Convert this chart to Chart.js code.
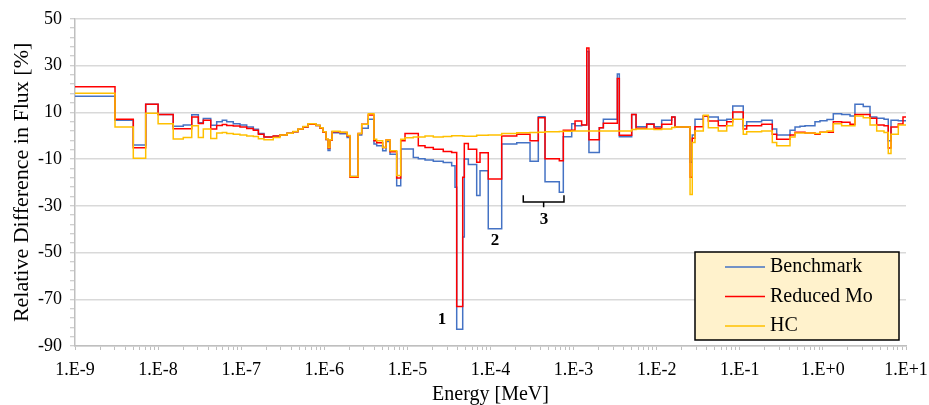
<!DOCTYPE html>
<html>
<head>
<meta charset="utf-8">
<title>Relative Difference in Flux</title>
<script src="https://cdn.jsdelivr.net/npm/chart.js@4.4.1/dist/chart.umd.min.js"></script>
<style>
  body { margin: 0; background: #fff; }
  #wrap { width: 929px; height: 405px; }
</style>
</head>
<body>
<div id="wrap"><canvas id="fluxChart" width="929" height="405"></canvas></div>
<script>
// energy group boundaries [MeV], group i runs from energy[i] to energy[i+1]
const energy = [
  1.0e-9, 3.03e-9, 5.03e-9, 7.09e-9, 1.0e-8, 1.52e-8, 2.01e-8, 2.54e-8, 3.05e-8, 3.5e-8,
  4.3e-8, 5.07e-8, 5.92e-8, 6.69e-8, 8.03e-8, 9.67e-8, 1.165e-7, 1.4e-7, 1.61e-7, 1.88e-7,
  2.43e-7, 2.93e-7, 3.56e-7, 4.2e-7, 4.82e-7, 5.54e-7, 6.37e-7, 7.95e-7, 8.88e-7, 9.65e-7,
  1.048e-6, 1.11e-6, 1.17e-6, 1.24e-6, 1.545e-6, 1.88e-6, 2.04e-6, 2.55e-6, 2.82e-6, 3.38e-6,
  3.96e-6, 4.27e-6, 5.04e-6, 5.53e-6, 6.18e-6, 7.43e-6, 8.31e-6, 9.36e-6, 1.178e-5, 1.353e-5,
  1.63e-5, 2.05e-5, 2.7e-5, 3.41e-5, 3.74e-5, 3.92e-5, 4.63e-5, 4.84e-5, 5.41e-5, 6.82e-5,
  7.48e-5, 9.4e-5, 1.364e-4, 2.07e-4, 2.99e-4, 3.76e-4, 4.53e-4, 6.73e-4, 7.52e-4, 9.49e-4,
  1.04e-3, 1.25e-3, 1.44e-3, 1.53e-3, 2.04e-3, 2.28e-3, 3.36e-3, 3.55e-3, 5.0e-3, 5.64e-3,
  7.58e-3, 9.29e-3, 1.148e-2, 1.516e-2, 1.66e-2, 2.52e-2, 2.68e-2, 2.89e-2, 3.64e-2, 4.18e-2,
  5.51e-2, 6.96e-2, 8.22e-2, 0.110, 0.121, 0.183, 0.246, 0.278, 0.402, 0.462,
  0.530, 0.609, 0.803, 0.923, 1.12, 1.334, 1.68, 2.12, 2.43, 3.06,
  3.69, 4.44, 5.44, 6.12, 6.60, 8.08, 9.20, 10
];

// relative difference [%] per group
const benchmark = [
  16.9, 6.6, -4.0, 13.4, 9.1, 4.0, 4.6, 8.9, 5.5, 7.3,
  4.5, 5.9, 6.6, 6.0, 5.1, 4.6, 3.7, 2.7, 0.9, -0.6,
  -0.3, 0.3, 1.0, 1.7, 2.7, 3.7, 4.9, 4.3, 3.2, 1.5,
  -1.6, -6.3, -2.0, 1.2, 0.8, -0.8, -17.5, 0.3, 3.2, 7.0,
  -3.6, -4.3, -6.5, -2.5, -8.0, -21.4, -5.7, -5.7, -9.3, -9.9,
  -10.4, -10.9, -11.5, -12.9, -22.1, -82.8, -43.4, -10.0, -12.3, -25.6,
  -15.0, -39.8, -3.6, -3.0, -11.0, 8.1, -19.7, -24.2, -0.5, 5.1,
  4.2, 4.6, 36.0, -7.2, 3.4, 7.0, 26.4, -0.5, 9.1, 3.8,
  5.1, 3.8, 6.6, 8.0, 3.7, -11.4, 0.3, 7.0, 8.4, 8.0,
  6.6, 7.0, 12.7, 4.2, 5.9, 6.6, 2.8, 0.3, 2.3, 3.7,
  4.0, 4.2, 5.9, 6.4, 6.9, 9.4, 9.1, 8.4, 13.4, 12.5,
  8.0, 7.4, 7.0, -2.2, 6.6, 6.4, 6.4
];
const reducedMo = [
  20.9, 7.0, -5.2, 13.4, 9.1, 3.0, 3.0, 8.0, 5.2, 6.6,
  2.9, 4.3, 4.8, 4.3, 4.1, 3.7, 3.1, 2.3, 0.6, -0.6,
  -0.1, 0.3, 1.0, 1.7, 2.7, 3.7, 4.9, 4.3, 3.2, 1.5,
  -1.6, -5.3, -2.0, 1.7, 1.3, -0.1, -17.8, 0.9, 4.9, 8.8,
  -2.2, -3.0, -5.1, -1.9, -6.9, -18.1, -2.2, 0.9, 0.9, -4.3,
  -5.1, -5.8, -6.8, -7.2, -7.2, -73.1, -17.8, -3.4, -5.8, -11.4,
  -7.3, -18.5, -0.1, 0.6, -2.2, 7.7, -9.9, -10.7, 2.3, 2.3,
  6.3, 4.6, 37.5, -1.8, 3.4, 5.3, 24.5, 0.2, 9.1, 3.2,
  4.9, 3.2, 4.9, 8.0, 3.7, -17.8, -1.1, 3.8, 8.4, 6.3,
  4.2, 6.0, 10.1, 2.8, 4.2, 4.9, 0.6, -1.5, 0.3, 1.5,
  1.5, 1.1, 0.6, 1.5, 1.5, 6.0, 5.7, 4.9, 9.1, 9.1,
  7.4, 4.6, 4.2, -5.3, 3.7, 5.0, 8.0
];
const hc = [
  18.1, 3.7, -9.7, 9.6, 5.1, -1.4, -0.8, 4.2, -0.8, 2.8,
  -1.2, 1.1, 1.4, 0.9, 0.6, 0.3, -0.1, -0.4, -1.3, -1.8,
  -0.8, 0.3, 1.0, 1.8, 2.9, 3.9, 5.1, 4.5, 3.4, 1.7,
  -1.4, -5.1, -1.8, 1.9, 1.5, 0.1, -17.5, 0.9, 4.9, 9.4,
  -1.5, -2.2, -5.1, -1.9, -6.5, -17.1, -1.5, -0.9, -0.6, -0.6,
  -0.2, -0.6, -0.4, 0.0, 0.0, 0.0, -0.2, -0.3, -0.3, 0.2,
  0.2, 0.3, 0.9, 1.2, 1.3, 1.5, 1.7, 1.8, 1.9, 2.0,
  2.0, 2.0, 2.0, 2.0, 2.0, 2.0, 2.0, 2.0, 2.6, 2.8,
  2.8, 2.6, 2.8, 3.5, 3.7, -25.2, -2.9, 2.0, 8.7, 3.4,
  2.0, 4.2, 7.0, 0.6, 1.7, 2.0, -2.9, -4.3, -0.6, 1.1,
  1.1, 1.1, 0.9, 1.5, 2.0, 5.1, 4.2, 4.2, 8.4, 7.7,
  4.6, 2.0, 1.3, -7.6, 0.6, 4.6, 4.6
];

const seriesNames = ['Benchmark', 'Reduced Mo', 'HC'];
const seriesColors = ['#4472C4', '#FF0000', '#FFC000'];

// numbered callouts (energy, value)
const notes = [
  { text: '1', e: 2.6e-5, v: -78.5 },
  { text: '2', e: 1.13e-4, v: -44.8 },
  { text: '3', e: 4.4e-4, v: -35.8 }
];
const bracket = { from: 2.48e-4, to: 7.66e-4, top: -25.5, bottom: -28.4, stem: -30.6 };

const serif = "'Liberation Serif', 'Times New Roman', serif";

function toSteps(vals) {
  return energy.map((e, i) => ({ x: e, y: vals[Math.min(i, vals.length - 1)] }));
}

function isDecade(v) {
  const l = Math.log10(v);
  return Math.abs(l - Math.round(l)) < 1e-6;
}

function expLabel(v) {
  const e = Math.round(Math.log10(v));
  return '1.E' + (e >= 0 ? '+' : '') + e;
}

const overlay = {
  id: 'overlay',
  afterDatasetsDraw(chart) {
    const { ctx, chartArea, scales: { x, y } } = chart;
    ctx.save();

    // callout numbers
    ctx.fillStyle = '#000';
    ctx.font = 'bold 17px ' + serif;
    ctx.textAlign = 'center';
    ctx.textBaseline = 'middle';
    notes.forEach(n => ctx.fillText(n.text, x.getPixelForValue(n.e), y.getPixelForValue(n.v)));

    // bracket over group 3
    const bx1 = x.getPixelForValue(bracket.from);
    const bx2 = x.getPixelForValue(bracket.to);
    const by1 = y.getPixelForValue(bracket.top);
    const by2 = y.getPixelForValue(bracket.bottom);
    const by3 = y.getPixelForValue(bracket.stem);
    const mid = (bx1 + bx2) / 2;
    ctx.strokeStyle = '#000';
    ctx.lineWidth = 1.5;
    ctx.beginPath();
    ctx.moveTo(bx1, by1);
    ctx.lineTo(bx1, by2);
    ctx.lineTo(bx2, by2);
    ctx.lineTo(bx2, by1);
    ctx.moveTo(mid, by2);
    ctx.lineTo(mid, by3);
    ctx.stroke();

    // legend box
    const w = 204, h = 88;
    const lx = chartArea.right - 7 - w;
    const ly = chartArea.bottom - 6 - h;
    ctx.fillStyle = '#FFF2CC';
    ctx.fillRect(lx, ly, w, h);
    ctx.strokeStyle = '#000';
    ctx.lineWidth = 1.5;
    ctx.strokeRect(lx, ly, w, h);
    ctx.font = '20px ' + serif;
    ctx.textAlign = 'left';
    seriesNames.forEach((name, i) => {
      const ry = ly + 15 + i * 29.5;
      ctx.strokeStyle = seriesColors[i];
      ctx.lineWidth = 1.5;
      ctx.beginPath();
      ctx.moveTo(lx + 30, ry);
      ctx.lineTo(lx + 70, ry);
      ctx.stroke();
      ctx.fillStyle = '#000';
      ctx.fillText(name, lx + 75, ry);
    });

    ctx.restore();
  }
};

const datasets = [benchmark, reducedMo, hc].map((vals, i) => ({
  label: seriesNames[i],
  data: toSteps(vals),
  borderColor: seriesColors[i],
  borderWidth: 1.5,
  stepped: true,
  pointRadius: 0,
  fill: false,
  order: 3 - i
}));

new Chart(document.getElementById('fluxChart'), {
  type: 'line',
  data: { datasets },
  options: {
    responsive: false,
    animation: false,
    layout: { padding: { top: 17, right: 23, left: 0, bottom: 0 } },
    plugins: {
      legend: { display: false },
      tooltip: { enabled: false }
    },
    scales: {
      x: {
        type: 'logarithmic',
        min: 1e-9,
        max: 10,
        afterBuildTicks: (scale) => {
          const t = [];
          for (let d = -9; d < 1; d++) {
            for (let m = 1; m <= 9; m++) t.push({ value: m * Math.pow(10, d) });
          }
          t.push({ value: 10 });
          scale.ticks = t;
        },
        afterFit: (scale) => {
          scale.height = 59;
          scale.paddingLeft = 0;
          scale.paddingRight = 0;
        },
        grid: { drawOnChartArea: false, tickLength: 4, tickColor: '#BFBFBF', lineWidth: 1 },
        border: { color: '#BFBFBF', width: 1.5 },
        ticks: {
          autoSkip: false,
          maxRotation: 0,
          padding: 9,
          color: '#000',
          font: { family: serif, size: 18 },
          callback: (v) => (isDecade(v) ? expLabel(v) : '')
        },
        title: {
          display: true,
          text: 'Energy [MeV]',
          color: '#000',
          font: { family: serif, size: 20, lineHeight: 1 },
          padding: { top: 0, bottom: 0 }
        }
      },
      y: {
        min: -90,
        max: 50,
        afterFit: (scale) => { scale.width = 75; },
        grid: {
          color: (c) => (c.tick && (c.tick.value + 90) % 20 === 0 ? '#D9D9D9' : 'rgba(0,0,0,0)'),
          lineWidth: 1.5,
          tickLength: 5,
          tickColor: '#BFBFBF',
          tickWidth: 1
        },
        border: { color: '#BFBFBF', width: 1.5 },
        ticks: {
          stepSize: 4,
          autoSkip: false,
          padding: 8,
          color: '#000',
          font: { family: serif, size: 18 },
          callback: (v) => ((v + 90) % 20 === 0 ? v : '')
        },
        title: {
          display: true,
          text: 'Relative Difference in Flux [%]',
          color: '#000',
          font: { family: serif, size: 22 },
          padding: { top: 9, bottom: 0 }
        }
      }
    }
  },
  plugins: [overlay]
});
</script>
</body>
</html>
